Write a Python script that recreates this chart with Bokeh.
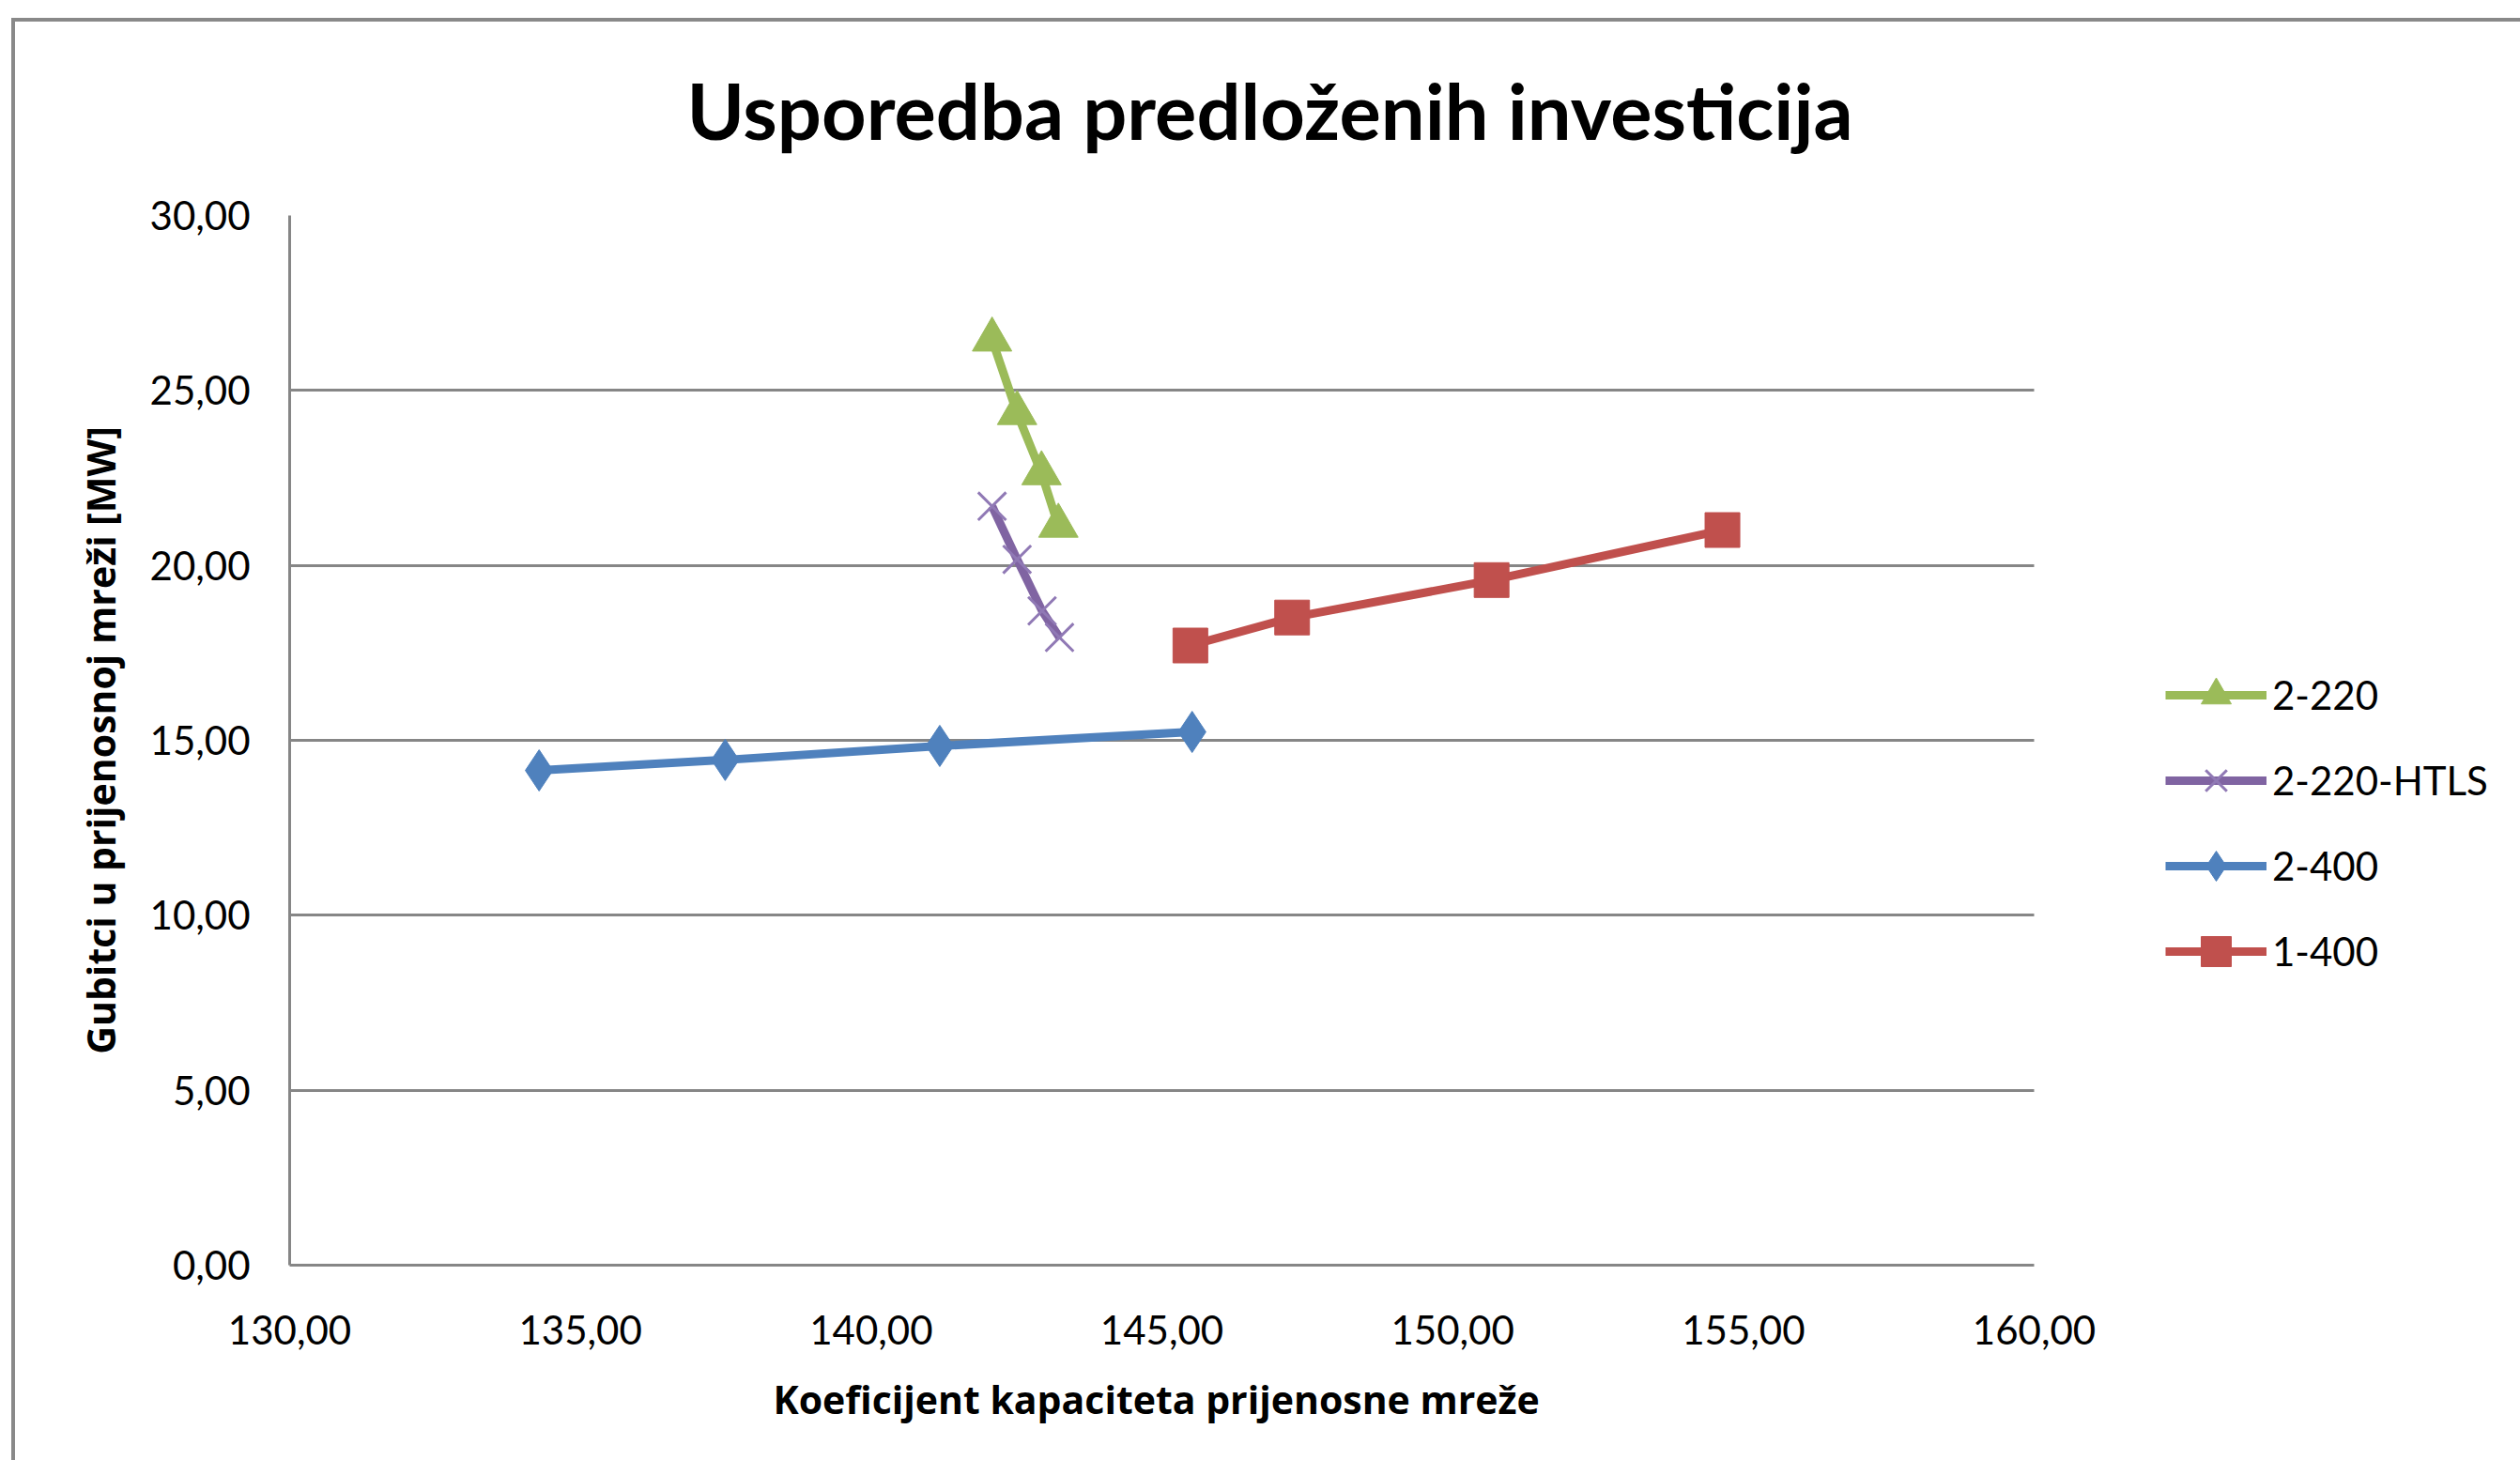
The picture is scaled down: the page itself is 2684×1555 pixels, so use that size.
from bokeh.plotting import figure
from bokeh.models import Range1d, FixedTicker, Legend, LegendItem, Title
from bokeh.embed import file_html
from bokeh.resources import INLINE

# ---------------- data ----------------
title_text = "Usporedba predloženih investicija"
x_label = "Koeficijent kapaciteta prijenosne mreže"
y_label = "Gubitci u prijenosnoj mreži [MW]"

x_ticks = [130, 135, 140, 145, 150, 155, 160]
x_tick_labels = ["130,00", "135,00", "140,00", "145,00", "150,00", "155,00", "160,00"]
y_ticks = [0, 5, 10, 15, 20, 25, 30]
y_tick_labels = ["0,00", "5,00", "10,00", "15,00", "20,00", "25,00", "30,00"]

series_names = ["2-220", "2-220-HTLS", "2-400", "1-400"]

x_2_220 = [142.08, 142.51, 142.93, 143.22]
y_2_220 = [26.45, 24.35, 22.63, 21.13]

x_2_220_htls = [142.08, 142.51, 142.94, 143.24]
y_2_220_htls = [21.69, 20.17, 18.70, 17.94]

x_2_400 = [134.29, 137.49, 141.18, 145.52]
y_2_400 = [14.14, 14.44, 14.84, 15.24]

x_1_400 = [145.49, 147.24, 150.67, 154.64]
y_1_400 = [17.71, 18.51, 19.58, 21.01]

# ---------------- layout constants ----------------
W, H = 2684, 1555
FRAME_LEFT, FRAME_TOP, FRAME_BOTTOM = 308, 229, 1347
X0, X1 = 130, 160          # axis extent
X1_PX = 2166               # pixel position of x = 160
px_per_unit = (X1_PX - FRAME_LEFT) / (X1 - X0)
x_end = X0 + (W - FRAME_LEFT) / px_per_unit   # frame runs to the canvas edge (room for legend)

FONT = "Lato"
LABEL_FONT = "Open Sans"

p = figure(width=W, height=H, output_backend="svg", toolbar_location=None,
           x_range=Range1d(X0, x_end), y_range=Range1d(0, 30),
           min_border_left=FRAME_LEFT, min_border_right=0,
           min_border_top=FRAME_TOP, min_border_bottom=H - FRAME_BOTTOM,
           background_fill_color="white", border_fill_color=None)
p.outline_line_color = None

# outer chart border (drawn behind the transparent canvas)
p.styles = {
    "background-color": "white",
    "background-image": "linear-gradient(#898989, #898989), linear-gradient(#898989, #898989)",
    "background-position": "12px 19px, 12px 19px",
    "background-size": "100% 4px, 4px 100%",
    "background-repeat": "no-repeat",
}

# title
p.title.text = title_text
p.title.text_font = FONT
p.title.text_font_size = "83px"
p.title.text_font_style = "bold"
p.title.text_color = "black"
p.title.align = "left"
p.title.offset = 423
if "standoff" in p.title.properties():
    p.title.standoff = 126

# axes
p.xaxis.ticker = FixedTicker(ticks=x_ticks)
p.yaxis.ticker = FixedTicker(ticks=y_ticks)
p.xaxis.bounds = (X0, X1)
p.xaxis.major_label_overrides = dict(zip(x_ticks, x_tick_labels))
p.yaxis.major_label_overrides = dict(zip(y_ticks, y_tick_labels))
p.yaxis.axis_label = y_label
for ax in (p.xaxis[0], p.yaxis[0]):
    ax.axis_line_color = "#868686"
    ax.axis_line_width = 3
    ax.major_tick_line_color = None
    ax.minor_tick_line_color = None
    ax.major_tick_out = 0
    ax.major_tick_in = 0
    ax.minor_tick_out = 0
    ax.minor_tick_in = 0
    ax.major_label_text_font = FONT
    ax.major_label_text_font_size = "42px"
    ax.major_label_text_color = "black"
    ax.axis_label_text_font = LABEL_FONT
    ax.axis_label_text_font_size = "41px"
    ax.axis_label_text_font_style = "bold"
    ax.axis_label_text_color = "black"
p.xaxis.major_label_standoff = 53
p.yaxis.major_label_standoff = 42
p.yaxis.axis_label_standoff = 22

# x-axis title, centred under the 130-160 span (the frame also holds the legend area)
x_title = Title(text=x_label, align="left", offset=515,
                text_font=LABEL_FONT, text_font_size="41px", text_font_style="bold",
                text_color="black")
if "standoff" in x_title.properties():
    x_title.standoff = 50
p.add_layout(x_title, "below")

p.xgrid.grid_line_color = None
p.ygrid.grid_line_color = "#868686"
p.ygrid.grid_line_width = 3
if "cross_bounds" in p.ygrid[0].properties():
    p.ygrid.cross_bounds = (X0, X1)

# series
colors = {"2-220": "#9BBB59", "2-220-HTLS": "#8064A2", "2-400": "#4F81BD", "1-400": "#C0504D"}
series = [
    ("2-220", x_2_220, y_2_220, "triangle", 42),
    ("2-220-HTLS", x_2_220_htls, y_2_220_htls, "x", 42),
    ("2-400", x_2_400, y_2_400, "diamond", 44),
    ("1-400", x_1_400, y_1_400, "square", 37),
]
items = []
for name, xs, ys, marker, size in series:
    c = colors[name]
    lr = p.line(xs, ys, line_color=c, line_width=9)
    if marker == "x":
        sr = p.scatter(xs, ys, marker=marker, size=size, line_color="#9079b5", line_width=3)
    else:
        sr = p.scatter(xs, ys, marker=marker, size=size, fill_color=c, line_color=c)
    items.append(LegendItem(label=name, renderers=[lr, sr]))

legend = Legend(items=items, location=(2306 - FRAME_LEFT, FRAME_BOTTOM - 1053),
                orientation="vertical",
                glyph_width=108, glyph_height=80, spacing=11, padding=0, margin=0,
                label_standoff=6, border_line_color=None, background_fill_alpha=0,
                label_text_font=FONT, label_text_font_size="42px", label_text_color="black")
p.add_layout(legend)

open("out.html", "w").write(file_html(p, INLINE))
